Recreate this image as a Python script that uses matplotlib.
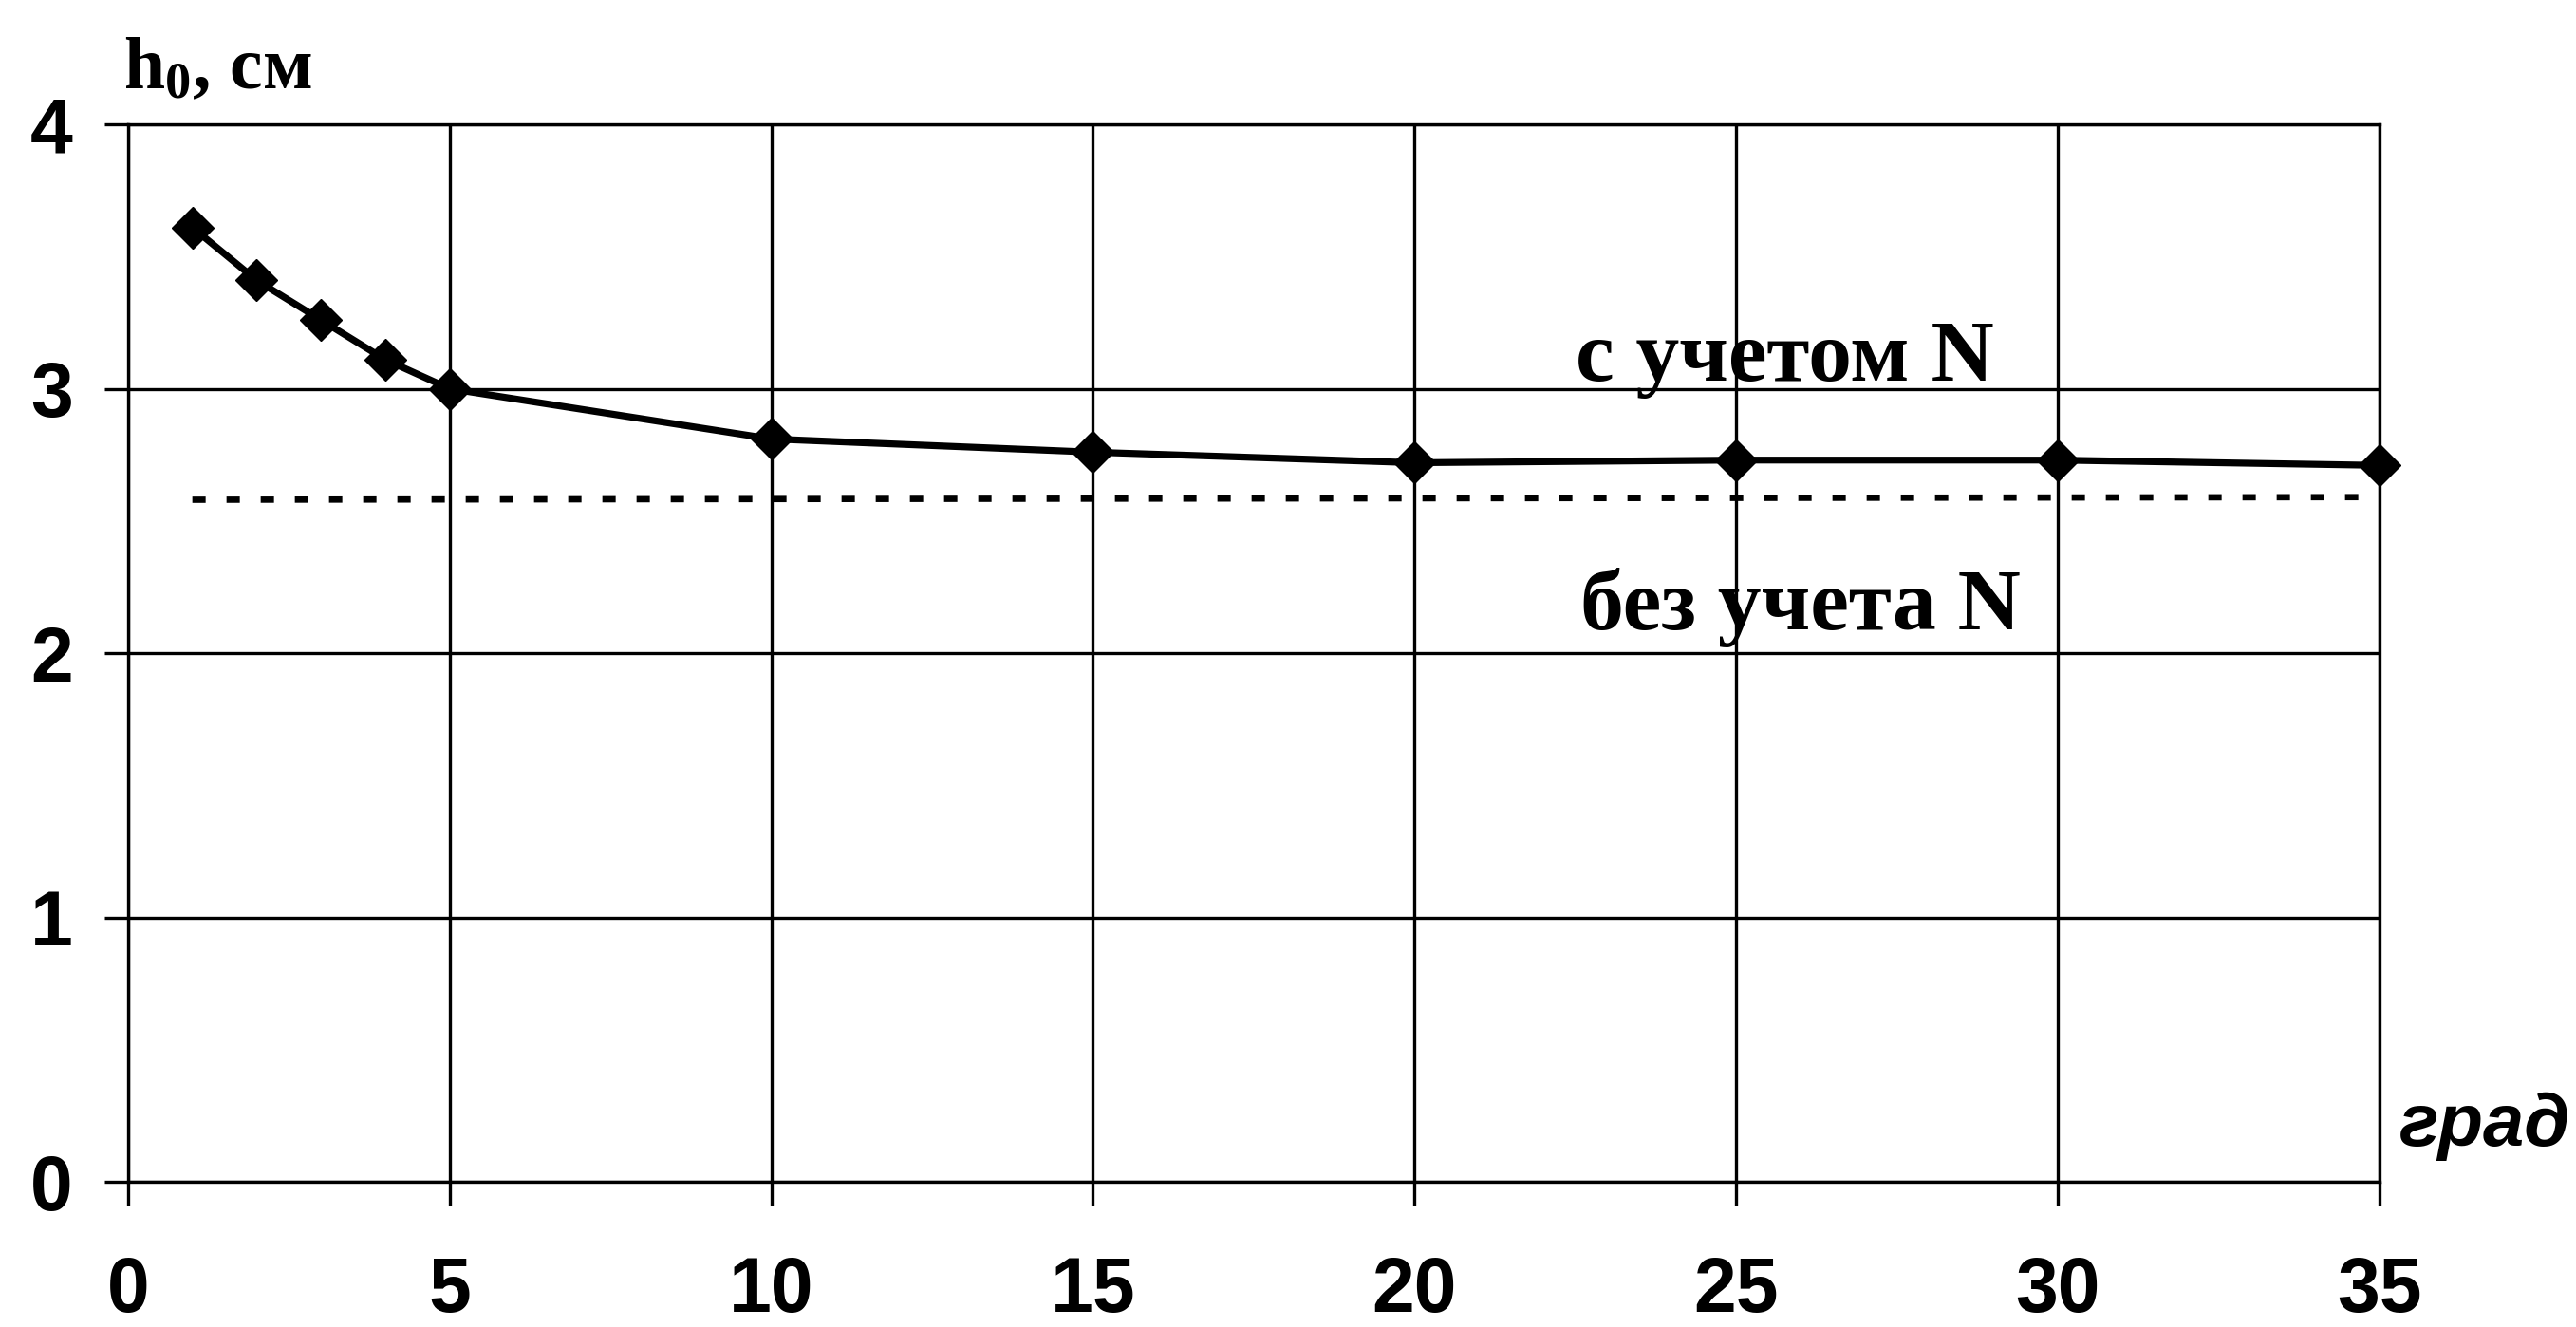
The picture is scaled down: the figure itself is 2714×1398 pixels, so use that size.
import matplotlib
matplotlib.use("Agg")
import matplotlib.pyplot as plt

plt.rcParams["mathtext.default"] = "regular"

# Data
angle = [1, 2, 3, 4, 5, 10, 15, 20, 25, 30, 35]
h_with_N = [3.61, 3.41, 3.26, 3.11, 3.00, 2.81, 2.76, 2.72, 2.73, 2.73, 2.71]
no_N_x = [1, 35]
no_N_y = [2.58, 2.59]
x_ticks = [0, 5, 10, 15, 20, 25, 30, 35]
y_ticks = [0, 1, 2, 3, 4]
label_with = "с учетом N"
label_without = "без учета N"
y_label = "h$_0$, см"
x_label = "град"

fig = plt.figure(figsize=(27.14, 13.98), dpi=100)
ax = fig.add_axes([0.0497, 0.1094, 0.874, 0.7969])

ax.plot(angle, h_with_N, color="black", lw=5.2, marker="D", ms=22,
        markerfacecolor="black", markeredgecolor="black", mew=1,
        zorder=3, clip_on=False)
ax.plot(no_N_x, no_N_y, color="black", lw=4.8, linestyle=(0, (2.1, 3.3)),
        solid_capstyle="butt", dash_capstyle="butt", zorder=3)

ax.set_xlim(0, 35)
ax.set_ylim(0, 4)
ax.set_xticks(x_ticks)
ax.set_yticks(y_ticks)
ax.grid(True, color="black", lw=2.4)
for s in ax.spines.values():
    s.set_linewidth(2.4)
ax.tick_params(axis="both", length=18, width=2.4, direction="out",
               labelsize=58)
ax.tick_params(axis="x", pad=38)
ax.tick_params(axis="y", pad=24)
for lab in ax.get_xticklabels() + ax.get_yticklabels():
    lab.set_fontfamily("Liberation Sans")
    lab.set_fontweight("bold")

ax.text(25.75, 3.03, label_with, fontsize=66, fontweight="bold",
        family="Liberation Serif", ha="center", va="baseline")
ax.text(26.0, 2.09, label_without, fontsize=66, fontweight="bold",
        family="Liberation Serif", ha="center", va="baseline")
fig.text(0.0479, 0.9335, y_label, fontsize=56, fontweight="bold",
         family="Liberation Serif", ha="left", va="baseline")
fig.text(0.998, 0.1366, x_label, fontsize=56, fontweight="bold",
         style="italic", family="Liberation Sans", ha="right", va="baseline")

fig.savefig("out.png", dpi=100, facecolor="white")
